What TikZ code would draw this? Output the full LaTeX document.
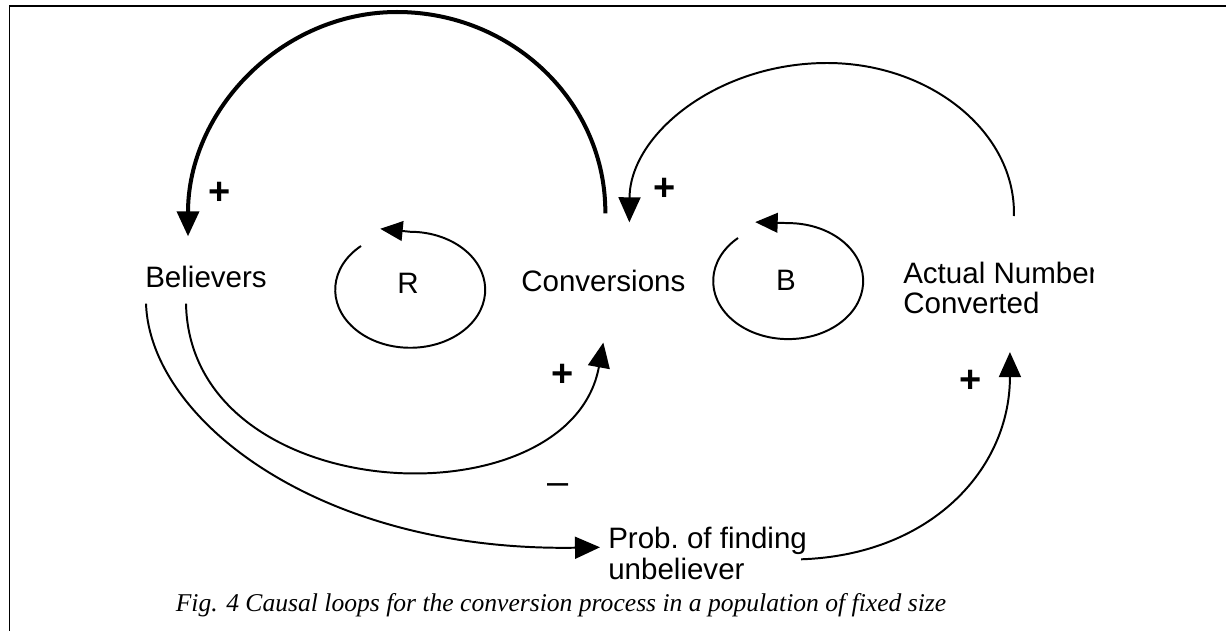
\documentclass[tikz,border=0pt]{standalone}
\usepackage{fontspec}
\setmainfont{Liberation Sans}
\newfontfamily\capfont{Liberation Serif}
\usetikzlibrary{arrows.meta,calc}

\begin{document}
\begin{tikzpicture}[x=0.025cm, y=-0.025cm,
  lbl/.style={inner sep=0pt, font=\fontsize{21}{19.2}\selectfont},
  sgn/.style={inner sep=0pt, font=\fontsize{27}{30}\selectfont\bfseries},
  link/.style={line width=1.4pt, -{Triangle[length=17.8pt, width=15.6pt]}},
  strong/.style={link, line width=2.85pt},
  loopline/.style={line width=1.4pt, -{Triangle[length=16pt, width=14pt]}}]
  \useasboundingbox (0,0) rectangle (1226,631);

  % Frame
  \draw[line width=1.4pt] (9.5,631) -- (9.5,6) -- (1226,6);

  % Variables
  \node[lbl, anchor=base west] (believ) at (145,287) {Believers};
  \node[lbl, anchor=base west] (conv) at (521,291) {Conversions};
  \begin{scope}
    \clip (890,240) rectangle (1093,330);
    \node[lbl, anchor=north west, align=left] (act) at (903,262) {Actual Number\\[2pt]Converted};
  \end{scope}
  \node[lbl, anchor=north west, align=left] (prob) at (608,527) {Prob.\ of finding\\[1pt]unbeliever};

  % Loop markers
  \node[lbl] (rtag) at (408,283) {R};
  \node[lbl] (btag) at (786,280) {B};
  \draw[loopline] ($(rtag)+(-47,-37)$) arc[start angle=229, end angle=-90, x radius=75, y radius=58] -- ++(-30,-3);
  \draw[loopline] ($(btag)+(-48,-42)$) arc[start angle=228, end angle=-90, x radius=75, y radius=58] -- ++(-33,-1);

  % Links
  \draw[strong] ($(conv.north)+(2,-56)$) .. controls (606,102) and (512,12) .. (397,12)
    .. controls (282,12) and (188,110) .. ($(believ.north)+(-18,-29)$);
  \draw[link] ($(act.north)+(13,-46)$) .. controls (1016,132) and (930,63) .. (827,63)
    .. controls (718,63) and (630,134) .. ($(conv.north)+(26,-47)$);
  \draw[link] ($(believ.south)+(-20,16)$) .. controls (190,510) and (570,525) .. ($(conv.south)+(0,51)$);
  \draw[link] ($(believ.south west)+(1,16)$) .. controls (150,420) and (320,552) .. ($(prob.west)+(-8,-6)$);
  \draw[link] ($(prob.east)+(-6,6)$) .. controls (930,555) and (1010,470) .. ($(act.south)+(9,38)$);

  % Polarities
  \node[sgn] (s1) at (220,193) {+};
  \node[sgn] (s2) at (665,189) {+};
  \node[sgn] (s3) at (563,375) {+};
  \node[sgn] (s4) at (971,381) {+};
  \node[sgn, font=\fontsize{27}{30}\selectfont] (s5) at (558,489) {–};

  % Caption
  \node[inner sep=0pt, font=\capfont\itshape\fontsize{18.2}{20}\selectfont] (cap) at (561,605) {Fig. 4 Causal loops for the conversion process in a population of fixed size};
\end{tikzpicture}
\end{document}
